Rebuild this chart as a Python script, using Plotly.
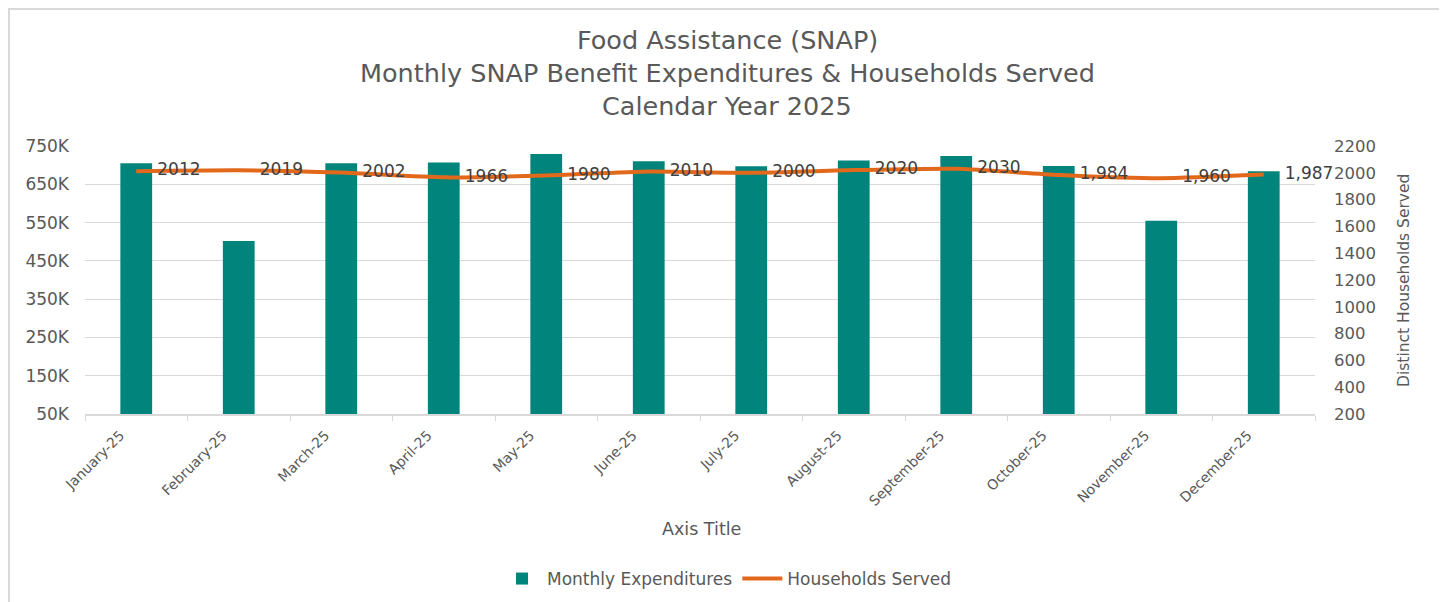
import plotly.graph_objects as go

months = ["January-25", "February-25", "March-25", "April-25", "May-25", "June-25",
          "July-25", "August-25", "September-25", "October-25", "November-25", "December-25"]
expenditures = [705000, 502000, 705000, 707000, 729000, 710000,
                697000, 712000, 724000, 698000, 555000, 684000]
households = [2012, 2019, 2002, 1966, 1980, 2010, 2000, 2020, 2030, 1984, 1960, 1987]
household_labels = ["2012", "2019", "2002", "1966", "1980", "2010",
                    "2000", "2020", "2030", "1,984", "1,960", "1,987"]
left_tickvals = [50000, 150000, 250000, 350000, 450000, 550000, 650000, 750000]
left_ticktext = ["50K", "150K", "250K", "350K", "450K", "550K", "650K", "750K"]

# page body has an 8px margin: work in screen coordinates, shift to figure coordinates
OFF = 8
W, H = 1447, 602
L, R, T, B = 85 - OFF, 1315 - OFF, 146 - OFF, 414 - OFF
pw, ph = R - L, B - T


def px(x):
    return (x - OFF - L) / pw


def py(y):
    return (B - (y - OFF)) / ph


TEAL = "#00847B"
ORANGE = "#E2691C"
GRAY = "#595959"
GRID = "#D9D9D9"
FONT = "DejaVu Sans"

fig = go.Figure()
fig.add_trace(go.Bar(
    x=months, y=expenditures, name="Monthly Expenditures",
    marker=dict(color=TEAL, line=dict(width=0)), width=0.31, yaxis="y",
))
fig.add_trace(go.Scatter(
    x=months, y=households, name="Households Served", yaxis="y2",
    mode="lines",
    line=dict(color=ORANGE, width=4, shape="spline", smoothing=0.6),
))
fig.add_trace(go.Scatter(
    x=months, y=households, yaxis="y2", showlegend=False, hoverinfo="skip",
    mode="markers+text", text=household_labels, textposition="middle right",
    marker=dict(size=32, color="rgba(0,0,0,0)"), cliponaxis=False,
    textfont=dict(family=FONT, size=17, color="#404040"),
))

annotations = [
    dict(text="Food Assistance (SNAP)", x=px(727), y=py(40)),
    dict(text="Monthly SNAP Benefit Expenditures &amp; Households Served", x=px(727), y=py(73)),
    dict(text="Calendar Year 2025", x=px(727), y=py(106)),
]
for a in annotations:
    a.update(xref="paper", yref="paper", showarrow=False, xanchor="center", yanchor="middle",
             font=dict(family=FONT, size=25.5, color=GRAY))
annotations.append(dict(text="Axis Title", x=px(701), y=py(529), xref="paper", yref="paper",
                        showarrow=False, xanchor="center", yanchor="middle",
                        font=dict(family=FONT, size=17.5, color=GRAY)))
annotations.append(dict(text="Distinct Households Served", x=px(1404), y=py(281), xref="paper",
                        yref="paper", showarrow=False, textangle=-90, xanchor="center",
                        yanchor="middle", font=dict(family=FONT, size=15.5, color=GRAY)))

fig.update_layout(
    width=W, height=H,
    margin=dict(l=L, r=W - R, t=T, b=H - B, pad=0),
    paper_bgcolor="white", plot_bgcolor="white",
    showlegend=True,
    legend=dict(orientation="h", x=px(727), y=py(579), xanchor="center", yanchor="middle",
                font=dict(family=FONT, size=17, color=GRAY), traceorder="normal",
                itemwidth=40),
    annotations=annotations,
    xaxis=dict(
        type="category", range=[-0.5, 11.5], tickangle=-45, showgrid=False, showline=True,
        linecolor=GRID, linewidth=1.5, ticks="outside", tickson="boundaries", ticklen=5,
        tickcolor=GRID, tickfont=dict(family=FONT, size=14, color=GRAY), automargin=False,
        ticklabelshift=-16, ticklabelstandoff=6,
    ),
    yaxis=dict(
        range=[50000, 750000], tickvals=left_tickvals, ticktext=left_ticktext,
        showgrid=True, gridcolor=GRID, gridwidth=1, zeroline=False, showline=False,
        tickfont=dict(family=FONT, size=17, color=GRAY), automargin=False,
        ticklabelstandoff=15,
    ),
    yaxis2=dict(
        range=[200, 2200], dtick=200, overlaying="y", side="right", showgrid=False,
        zeroline=False, showline=False, automargin=False,
        tickfont=dict(family=FONT, size=16.5, color=GRAY),
        ticklabelstandoff=18,
    ),
    shapes=[dict(type="rect", xref="paper", yref="paper",
                 x0=px(9), x1=px(1444), y0=py(9), y1=py(640),
                 line=dict(color=GRID, width=2), layer="below")],
)

fig.write_html("out.html")
